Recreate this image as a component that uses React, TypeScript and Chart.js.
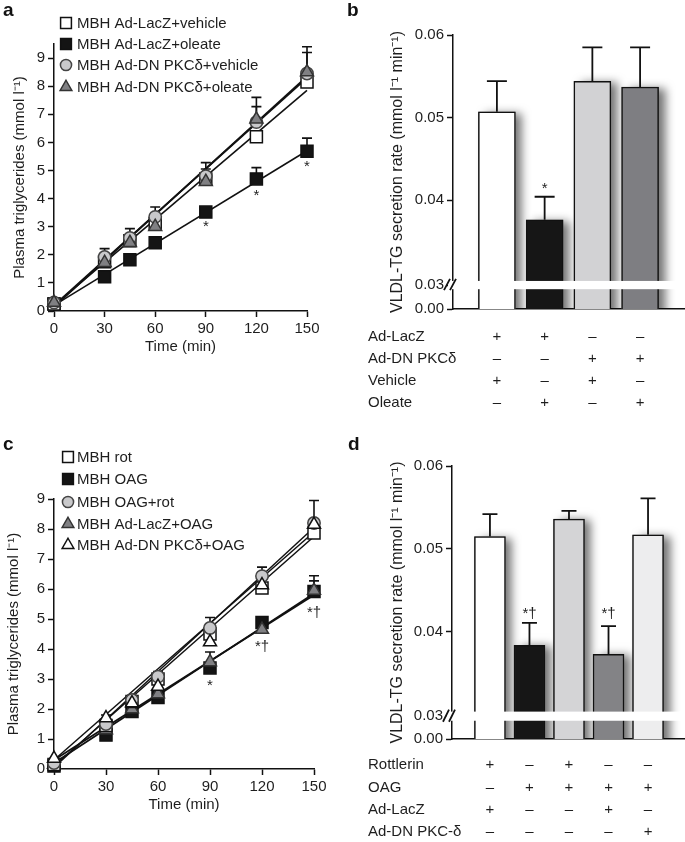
import React, { useEffect, useRef } from 'react';
import { Chart, registerables } from 'chart.js';
Chart.register(...registerables);

const FONT = '"Liberation Sans", Arial, Helvetica, sans-serif';
const INK = '#1e1e1e';

// ---------------- Panel a data ----------------
const timeA = [0, 30, 45, 60, 90, 120, 150];
const aLacZVehicle = [0.25, 1.75, 2.5, 3.1, 4.7, 6.2, 8.15];
const aLacZOleate = [0.25, 1.22, 1.82, 2.43, 3.52, 4.7, 5.68];
const aDNVehicle = [0.3, 1.92, 2.6, 3.35, 4.8, 6.72, 8.45];
const aDNOleate = [0.3, 1.72, 2.43, 3.0, 4.6, 6.82, 8.5];
const aErrLacZVehicle = [0, 0, 0, 0, 0, 0, 0];
const aErrLacZOleate = [0, 0, 0, 0, 0, 0.4, 0.47];
const aErrDNVehicle = [0.05, 0.3, 0.33, 0.35, 0.25, 0.55, 0.75];
const aErrDNOleate = [0, 0.2, 0.2, 0.2, 0.68, 0.78, 0.9];
const fitTime = [0, 150];
const aFitLacZVehicle = [0.2, 7.85];
const aFitLacZOleate = [0.2, 5.7];
const aFitDNVehicle = [0.15, 8.35];
const aFitDNOleate = [0.2, 8.3];
const aLegend = ['MBH Ad-LacZ+vehicle', 'MBH Ad-LacZ+oleate', 'MBH Ad-DN PKCδ+vehicle', 'MBH Ad-DN PKCδ+oleate'];
const aStarX = [90, 120, 150];
const aStarY = [2.84, 3.95, 4.98];
const aStarText = ['*', '*', '*'];
const aYTicks = [0, 1, 2, 3, 4, 5, 6, 7, 8, 9];
const xTicksTime = [0, 30, 60, 90, 120, 150];

// ---------------- Panel c data ----------------
const timeC = [0, 30, 45, 60, 90, 120, 150];
const cRot = [0.15, 1.45, 2.25, 3.0, 4.5, 6.03, 7.87];
const cOAG = [0.1, 1.13, 1.92, 2.38, 3.37, 4.88, 5.92];
const cOAGRot = [0.2, 1.5, 2.3, 3.08, 4.7, 6.43, 8.2];
const cLacZOAG = [0.15, 1.3, 2.0, 2.5, 3.57, 4.65, 5.95];
const cDNOAG = [0.35, 1.7, 2.2, 2.75, 4.23, 6.13, 8.15];
const cErrRot = [0, 0, 0, 0, 0, 0, 0];
const cErrOAG = [0, 0, 0, 0, 0, 0.17, 0.52];
const cErrOAGRot = [0.05, 0.3, 0.15, 0.17, 0.35, 0.3, 0.75];
const cErrLacZOAG = [0, 0, 0, 0, 0.33, 0.25, 0.32];
const cErrDNOAG = [0, 0, 0, 0, 0, 0, 0];
const cFitRot = [0.1, 7.75];
const cFitOAG = [0.2, 5.85];
const cFitOAGRot = [0.05, 8.05];
const cFitLacZOAG = [0.3, 5.8];
const cFitDNOAG = [0.3, 7.9];
const cLegend = ['MBH rot', 'MBH OAG', 'MBH OAG+rot', 'MBH Ad-LacZ+OAG', 'MBH Ad-DN PKCδ+OAG'];
const cStarX = [90, 120, 150];
const cStarY = [2.65, 3.93, 5.07];
const cStarText = ['*', '*†', '*†'];
const cYTicks = [0, 1, 2, 3, 4, 5, 6, 7, 8, 9];

// ---------------- Panel b data ----------------
const bValues = [0.0507, 0.0376, 0.0544, 0.0537];
const bErrors = [0.0037, 0.0028, 0.0041, 0.0048];
const bYMin = 0.0268;
const bTickValues = [bYMin, 0.0297, 0.04, 0.05, 0.06];
const bTickLabels = ['0.00', '0.03', '0.04', '0.05', '0.06'];
const bBreak = [0.0292, 0.0302];
const bStarIdx = [1];
const bStarY = [0.0409];
const bStarText = ['*'];
const bRows = ['Ad-LacZ', 'Ad-DN PKCδ', 'Vehicle', 'Oleate'];
const bSigns = [
  ['+', '+', '–', '–'],
  ['–', '–', '+', '+'],
  ['+', '–', '+', '–'],
  ['–', '+', '–', '+'],
];

// ---------------- Panel d data ----------------
const dValues = [0.0515, 0.0384, 0.0536, 0.0373, 0.0517];
const dErrors = [0.0027, 0.0027, 0.001, 0.0034, 0.0044];
const dYMin = 0.0271;
const dTickValues = [dYMin, 0.0299, 0.04, 0.05, 0.06];
const dTickLabels = ['0.00', '0.03', '0.04', '0.05', '0.06'];
const dBreak = [0.0293, 0.0304];
const dStarIdx = [1, 3];
const dStarY = [0.0417, 0.0417];
const dStarText = ['*†', '*†'];
const dRows = ['Rottlerin', 'OAG', 'Ad-LacZ', 'Ad-DN PKC-δ'];
const dSigns = [
  ['+', '–', '+', '–', '–'],
  ['–', '+', '+', '+', '+'],
  ['+', '–', '–', '+', '–'],
  ['–', '–', '–', '–', '+'],
];

const yTitleLine = 'Plasma triglycerides (mmol l⁻¹)';
const yTitleBar = 'VLDL-TG secretion rate (mmol l⁻¹ min⁻¹)';

// ---------------- helpers ----------------
const pts = (xs: number[], ys: number[]) => xs.map((x, i) => ({ x, y: ys[i] }));

function drawMarker(ctx: CanvasRenderingContext2D, style: string, x: number, y: number, r: number, fill: string, stroke: string, lw: number) {
  ctx.save();
  ctx.beginPath();
  if (style === 'rect') {
    const s = Math.SQRT1_2 * r;
    ctx.rect(x - s, y - s, 2 * s, 2 * s);
  } else if (style === 'circle') {
    ctx.arc(x, y, r, 0, Math.PI * 2);
  } else {
    ctx.moveTo(x, y - r);
    ctx.lineTo(x + r * 0.866, y + r * 0.5);
    ctx.lineTo(x - r * 0.866, y + r * 0.5);
    ctx.closePath();
  }
  ctx.fillStyle = fill;
  ctx.fill();
  ctx.lineWidth = lw;
  ctx.strokeStyle = stroke;
  ctx.stroke();
  ctx.restore();
}

function letterPlugin(letter: string, x: number, y: number) {
  return {
    id: 'letter',
    afterDraw(chart: any) {
      const ctx = chart.ctx;
      ctx.save();
      ctx.font = `bold 19px ${FONT}`;
      ctx.fillStyle = '#111';
      ctx.textAlign = 'left';
      ctx.textBaseline = 'alphabetic';
      ctx.fillText(letter, x, y);
      ctx.restore();
    },
  };
}

function starPlugin(xs: number[], ys: number[], texts: string[]) {
  return {
    id: 'stars',
    afterDatasetsDraw(chart: any) {
      const ctx = chart.ctx;
      const xs_ = chart.scales.x, ys_ = chart.scales.y;
      ctx.save();
      ctx.font = `15px ${FONT}`;
      ctx.fillStyle = INK;
      ctx.textAlign = 'center';
      ctx.textBaseline = 'alphabetic';
      xs.forEach((xv, i) => {
        ctx.fillText(texts[i], xs_.getPixelForValue(xv), ys_.getPixelForValue(ys[i]));
      });
      ctx.restore();
    },
  };
}

const axisCommon = (tickPad: number) => ({
  grid: { display: true, drawOnChartArea: false, drawTicks: true, tickLength: 6, tickWidth: 1.5, tickColor: '#111' },
  border: { display: true, color: '#111', width: 1.5 },
  ticks: { font: { family: FONT, size: 15 }, color: INK, padding: tickPad },
});

type Series = { label: string; data: number[]; err: number[]; style: string; r: number; fill: string; stroke: string; order: number };

function lineConfig(P: {
  times: number[];
  series: Series[];
  fits: { data: number[]; w: number }[];
  yMax: number;
  yTicks: number[];
  padding: any;
  yWidth: number;
  xHeight: number;
  yTitlePad: number;
  legendX: number;
  textX: number;
  legendY: number[];
  stars: any;
  letter: any;
}) {
  const datasets: any[] = [
    ...P.series.map((s) => ({
      type: 'line',
      label: s.label,
      data: pts(P.times, s.data),
      errors: s.err,
      showLine: false,
      pointStyle: s.style,
      pointRadius: s.r,
      pointBackgroundColor: s.fill,
      pointBorderColor: s.stroke,
      pointBorderWidth: 1.5,
      order: s.order,
      clip: false,
    })),
    ...P.fits.map((f) => ({
      type: 'line',
      data: pts(fitTime, f.data),
      borderColor: '#111',
      borderWidth: f.w,
      pointRadius: 0,
      order: 20,
      clip: false,
      fill: false,
    })),
  ];
  const errPlugin = {
    id: 'lineErr',
    beforeDatasetsDraw(chart: any) {
      const ctx = chart.ctx;
      const xs = chart.scales.x, ys = chart.scales.y;
      ctx.save();
      ctx.strokeStyle = '#111';
      ctx.lineWidth = 1.6;
      chart.data.datasets.forEach((ds: any) => {
        if (!ds.errors) return;
        ds.data.forEach((p: any, j: number) => {
          const e = ds.errors[j];
          if (!e) return;
          const x = xs.getPixelForValue(p.x);
          const y0 = ys.getPixelForValue(p.y);
          const y1 = ys.getPixelForValue(p.y + e);
          ctx.beginPath();
          ctx.moveTo(x, y0);
          ctx.lineTo(x, y1);
          ctx.moveTo(x - 5, y1);
          ctx.lineTo(x + 5, y1);
          ctx.stroke();
        });
      });
      ctx.restore();
    },
  };
  const legendPlugin = {
    id: 'customLegend',
    afterDraw(chart: any) {
      const ctx = chart.ctx;
      ctx.save();
      P.series.forEach((s, i) => {
        const y = P.legendY[i];
        drawMarker(ctx, s.style, P.legendX, y, s.r * 0.9, s.fill, s.stroke, 1.5);
        ctx.font = `15px ${FONT}`;
        ctx.fillStyle = INK;
        ctx.textAlign = 'left';
        ctx.textBaseline = 'middle';
        ctx.fillText(s.label, P.textX, y + 1);
      });
      ctx.restore();
    },
  };
  const base = axisCommon(3);
  return {
    type: 'line',
    data: { datasets },
    options: {
      animation: false,
      responsive: false,
      devicePixelRatio: 1,
      events: [],
      layout: { padding: P.padding },
      plugins: { legend: { display: false }, tooltip: { enabled: false } },
      scales: {
        x: {
          type: 'linear',
          min: 0,
          max: 150,
          ...base,
          afterBuildTicks: (s: any) => {
            s.ticks = xTicksTime.map((v) => ({ value: v }));
          },
          afterFit: (s: any) => {
            s.height = P.xHeight;
          },
          title: { display: true, text: 'Time (min)', font: { family: FONT, size: 15 }, color: INK, padding: { top: 0, bottom: 0 } },
        },
        y: {
          type: 'linear',
          min: 0,
          max: P.yMax,
          ...base,
          afterBuildTicks: (s: any) => {
            s.ticks = P.yTicks.map((v) => ({ value: v }));
          },
          afterFit: (s: any) => {
            s.width = P.yWidth;
          },
          title: { display: true, text: yTitleLine, font: { family: FONT, size: 15 }, color: INK, padding: { top: P.yTitlePad, bottom: 0 } },
        },
      },
    },
    plugins: [errPlugin, legendPlugin, P.stars, P.letter],
  };
}

function barConfig(P: {
  values: number[];
  errors: number[];
  colors: string[];
  barW: number;
  capW: number;
  xMin: number;
  xMax: number;
  yMin: number;
  tickValues: number[];
  tickLabels: string[];
  brk: number[];
  padding: any;
  yWidth: number;
  starIdx: number[];
  starY: number[];
  starText: string[];
  rows: string[];
  signs: string[][];
  rowStart: number;
  rowGap: number;
  letter: any;
}) {
  const data = P.values.map((v, i) => ({ x: i, y: v }));
  const shadowPlugin = {
    id: 'barShadow',
    beforeDatasetsDraw(chart: any) {
      const ctx = chart.ctx;
      const area = chart.chartArea;
      const meta = chart.getDatasetMeta(0);
      ctx.save();
      ctx.beginPath();
      ctx.rect(area.left, area.top - 30, chart.width - area.left, area.bottom - area.top + 30);
      ctx.clip();
      ctx.shadowColor = 'rgba(0,0,0,0.55)';
      ctx.shadowBlur = 9;
      ctx.shadowOffsetX = 7;
      ctx.shadowOffsetY = 1;
      ctx.fillStyle = '#777';
      meta.data.forEach((el: any) => {
        const { x, y, base, width } = el.getProps(['x', 'y', 'base', 'width'], true);
        ctx.fillRect(x - width / 2, y, width, base - y);
      });
      ctx.restore();
    },
    afterDatasetsDraw(chart: any) {
      const ctx = chart.ctx;
      const area = chart.chartArea;
      const ys = chart.scales.y;
      const xs = chart.scales.x;
      // axis break
      const yt = ys.getPixelForValue(P.brk[1]);
      const yb = ys.getPixelForValue(P.brk[0]);
      ctx.save();
      ctx.fillStyle = '#ffffff';
      ctx.fillRect(area.left - 5, yt, chart.width - area.left + 5, yb - yt);
      ctx.strokeStyle = '#111';
      ctx.lineWidth = 1.8;
      const ax = area.left;
      ctx.beginPath();
      ctx.moveTo(ax - 9, yb + 1);
      ctx.lineTo(ax - 3, yt - 2);
      ctx.moveTo(ax - 3, yb + 1);
      ctx.lineTo(ax + 3, yt - 2);
      ctx.stroke();
      // error bars
      ctx.lineWidth = 1.8;
      P.values.forEach((v, i) => {
        const x = xs.getPixelForValue(i);
        const y0 = ys.getPixelForValue(v);
        const y1 = ys.getPixelForValue(v + P.errors[i]);
        ctx.beginPath();
        ctx.moveTo(x, y0);
        ctx.lineTo(x, y1);
        ctx.moveTo(x - P.capW / 2, y1);
        ctx.lineTo(x + P.capW / 2, y1);
        ctx.stroke();
      });
      // stars
      ctx.font = `15px ${FONT}`;
      ctx.fillStyle = INK;
      ctx.textAlign = 'center';
      ctx.textBaseline = 'alphabetic';
      P.starIdx.forEach((idx, k) => {
        ctx.fillText(P.starText[k], xs.getPixelForValue(idx), ys.getPixelForValue(P.starY[k]));
      });
      ctx.restore();
    },
    afterDraw(chart: any) {
      const ctx = chart.ctx;
      const area = chart.chartArea;
      const xs = chart.scales.x;
      ctx.save();
      ctx.font = `15px ${FONT}`;
      ctx.fillStyle = INK;
      ctx.textBaseline = 'middle';
      P.rows.forEach((r, i) => {
        const y = area.bottom + P.rowStart + i * P.rowGap;
        ctx.textAlign = 'left';
        ctx.fillText(r, 28, y);
        ctx.textAlign = 'center';
        P.signs[i].forEach((s, j) => {
          ctx.fillText(s, xs.getPixelForValue(j), y);
        });
      });
      ctx.restore();
    },
  };
  const base = axisCommon(3);
  return {
    type: 'bar',
    data: {
      datasets: [
        {
          data,
          backgroundColor: P.colors,
          borderColor: '#111',
          borderWidth: 1.5,
          barThickness: P.barW,
        },
      ],
    },
    options: {
      animation: false,
      responsive: false,
      devicePixelRatio: 1,
      events: [],
      layout: { padding: P.padding },
      plugins: { legend: { display: false }, tooltip: { enabled: false } },
      scales: {
        x: {
          type: 'linear',
          min: P.xMin,
          max: P.xMax,
          offset: false,
          grid: { display: true, drawOnChartArea: false, drawTicks: false },
          border: { display: true, color: '#111', width: 1.5 },
          ticks: { display: false },
          afterFit: (s: any) => {
            s.height = 1;
          },
        },
        y: {
          type: 'linear',
          min: P.yMin,
          max: 0.06,
          ...base,
          afterBuildTicks: (s: any) => {
            s.ticks = P.tickValues.map((v) => ({ value: v }));
          },
          ticks: { ...base.ticks, callback: (_v: any, i: number) => P.tickLabels[i] },
          afterFit: (s: any) => {
            s.width = P.yWidth;
          },
          title: { display: true, text: yTitleBar, font: { family: FONT, size: 16 }, color: INK, padding: { top: 48, bottom: 0 } },
        },
      },
    },
    plugins: [shadowPlugin, P.letter],
  };
}

function ChartCanvas({ left, top, width, height, make }: { left: number; top: number; width: number; height: number; make: () => any }) {
  const ref = useRef<HTMLCanvasElement>(null);
  useEffect(() => {
    const chart = new Chart(ref.current as HTMLCanvasElement, make());
    return () => chart.destroy();
  }, []);
  return <canvas ref={ref} width={width} height={height} style={{ position: 'absolute', left, top, width, height }} />;
}

const makeA = () =>
  lineConfig({
    times: timeA,
    series: [
      { label: aLegend[0], data: aLacZVehicle, err: aErrLacZVehicle, style: 'rect', r: 8.5, fill: '#ffffff', stroke: '#111', order: 3 },
      { label: aLegend[1], data: aLacZOleate, err: aErrLacZOleate, style: 'rect', r: 8.5, fill: '#141414', stroke: '#111', order: 4 },
      { label: aLegend[2], data: aDNVehicle, err: aErrDNVehicle, style: 'circle', r: 6.2, fill: '#c9c9cb', stroke: '#444', order: 2 },
      { label: aLegend[3], data: aDNOleate, err: aErrDNOleate, style: 'triangle', r: 7.5, fill: '#808083', stroke: '#333', order: 1 },
    ],
    fits: [
      { data: aFitLacZVehicle, w: 1.6 },
      { data: aFitLacZOleate, w: 1.6 },
      { data: aFitDNVehicle, w: 1.8 },
      { data: aFitDNOleate, w: 1.8 },
    ],
    yMax: 9.5,
    yTicks: aYTicks,
    padding: { left: 0, top: 44, right: 33, bottom: 14 },
    yWidth: 54,
    xHeight: 45,
    yTitlePad: 11,
    legendX: 66,
    textX: 77,
    legendY: [23, 44, 65, 87],
    stars: starPlugin(aStarX, aStarY, aStarText),
    letter: letterPlugin('a', 3, 16),
  });

const makeC = () =>
  lineConfig({
    times: timeC,
    series: [
      { label: cLegend[0], data: cRot, err: cErrRot, style: 'rect', r: 8.5, fill: '#ffffff', stroke: '#111', order: 3 },
      { label: cLegend[1], data: cOAG, err: cErrOAG, style: 'rect', r: 8.5, fill: '#141414', stroke: '#111', order: 5 },
      { label: cLegend[2], data: cOAGRot, err: cErrOAGRot, style: 'circle', r: 6.2, fill: '#c9c9cb', stroke: '#444', order: 2 },
      { label: cLegend[3], data: cLacZOAG, err: cErrLacZOAG, style: 'triangle', r: 7.5, fill: '#808083', stroke: '#333', order: 4 },
      { label: cLegend[4], data: cDNOAG, err: cErrDNOAG, style: 'triangle', r: 7.5, fill: '#ffffff', stroke: '#111', order: 1 },
    ],
    fits: [
      { data: cFitRot, w: 1.5 },
      { data: cFitOAG, w: 1.8 },
      { data: cFitOAGRot, w: 1.5 },
      { data: cFitLacZOAG, w: 1.8 },
      { data: cFitDNOAG, w: 1.5 },
    ],
    yMax: 9,
    yTicks: cYTicks,
    padding: { left: 0, top: 79, right: 26, bottom: 28 },
    yWidth: 54,
    xHeight: 45,
    yTitlePad: 5,
    legendX: 68,
    textX: 77,
    legendY: [37, 59, 82, 104, 125],
    stars: starPlugin(cStarX, cStarY, cStarText),
    letter: letterPlugin('c', 3, 30),
  });

const makeB = () =>
  barConfig({
    values: bValues,
    errors: bErrors,
    colors: ['#ffffff', '#161616', '#d2d2d4', '#7e7e82'],
    barW: 37,
    capW: 20,
    xMin: -0.92,
    xMax: 3.92,
    yMin: bYMin,
    tickValues: bTickValues,
    tickLabels: bTickLabels,
    brk: bBreak,
    padding: { left: 0, top: 35, right: 1, bottom: 110 },
    yWidth: 113,
    starIdx: bStarIdx,
    starY: bStarY,
    starText: bStarText,
    rows: bRows,
    signs: bSigns,
    rowStart: 28,
    rowGap: 22,
    letter: letterPlugin('b', 7, 16),
  });

const makeD = () =>
  barConfig({
    values: dValues,
    errors: dErrors,
    colors: ['#ffffff', '#161616', '#d4d4d6', '#838386', '#ededee'],
    barW: 31,
    capW: 15,
    xMin: -0.96,
    xMax: 4.91,
    yMin: dYMin,
    tickValues: dTickValues,
    tickLabels: dTickLabels,
    brk: dBreak,
    padding: { left: 0, top: 46, right: 1, bottom: 102 },
    yWidth: 112,
    starIdx: dStarIdx,
    starY: dStarY,
    starText: dStarText,
    rows: dRows,
    signs: dSigns,
    rowStart: 26,
    rowGap: 22.4,
    letter: letterPlugin('d', 8, 30),
  });

export default function App() {
  return (
    <div style={{ position: 'absolute', left: 0, top: 0, width: 685, height: 842, background: '#ffffff', overflow: 'hidden' }}>
      <ChartCanvas left={0} top={0} width={340} height={370} make={makeA} />
      <ChartCanvas left={340} top={0} width={345} height={420} make={makeB} />
      <ChartCanvas left={0} top={420} width={340} height={422} make={makeC} />
      <ChartCanvas left={340} top={420} width={345} height={422} make={makeD} />
    </div>
  );
}
